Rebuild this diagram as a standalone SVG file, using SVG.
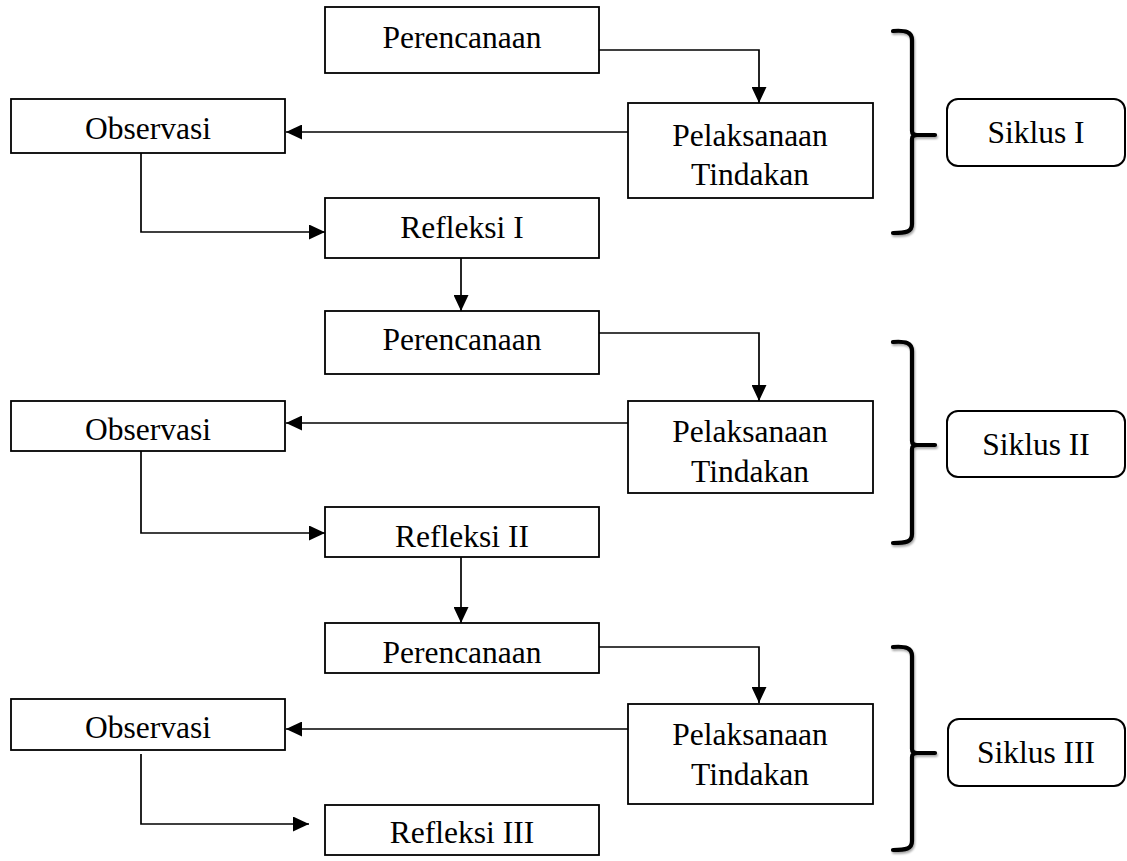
<svg xmlns="http://www.w3.org/2000/svg" width="1127" height="861" viewBox="0 0 1127 861">
<defs>
<marker id="ah" markerUnits="userSpaceOnUse" markerWidth="17" markerHeight="15" viewBox="0 0 17 15" refX="16" refY="7.5" orient="auto">
<path d="M0,0 L16,7.5 L0,15 Z" fill="#000"/>
</marker>
<filter id="sh" x="-20%" y="-5%" width="140%" height="110%">
<feGaussianBlur in="SourceAlpha" stdDeviation="1.2"/>
<feOffset dx="1" dy="1.5"/>
<feComponentTransfer><feFuncA type="linear" slope="0.35"/></feComponentTransfer>
<feMerge><feMergeNode/><feMergeNode in="SourceGraphic"/></feMerge>
</filter>
</defs>
<style>
.box{fill:#fff;stroke:#000;stroke-width:1.8}
.rbox{fill:#fff;stroke:#000;stroke-width:2}
.t{font-family:"Liberation Serif","Times New Roman",serif;font-size:31.5px;fill:#000;text-anchor:middle}
.c{fill:none;stroke:#000;stroke-width:1.7}
.br{fill:none;stroke:#000;stroke-width:4.2;stroke-linecap:round;stroke-linejoin:round}
</style>
<rect width="1127" height="861" fill="#fff"/>
<g id="connectors">
<path class="c" d="M599,50 H759 V103" marker-end="url(#ah)"/>
<path class="c" d="M628,132 H286" marker-end="url(#ah)"/>
<path class="c" d="M141,153 V232 H325" marker-end="url(#ah)"/>
<path class="c" d="M461,258 V311" marker-end="url(#ah)"/>
<path class="c" d="M599,333 H759 V401" marker-end="url(#ah)"/>
<path class="c" d="M628,423 H286" marker-end="url(#ah)"/>
<path class="c" d="M141,451 V533 H325" marker-end="url(#ah)"/>
<path class="c" d="M461,557 V623" marker-end="url(#ah)"/>
<path class="c" d="M599,647 H759 V703" marker-end="url(#ah)"/>
<path class="c" d="M628,729 H286" marker-end="url(#ah)"/>
<path class="c" d="M141,754 V824 H309" marker-end="url(#ah)"/>
</g>
<g id="perencanaan1"><rect class="box" x="325" y="7" width="274" height="66"/><text class="t" x="462" y="48">Perencanaan</text></g>
<g id="pelaksanaan1"><rect class="box" x="628" y="103" width="245" height="95"/><text class="t" x="750" y="146">Pelaksanaan</text><text class="t" x="750" y="185">Tindakan</text></g>
<g id="observasi1"><rect class="box" x="11" y="99" width="274" height="54"/><text class="t" x="148" y="139">Observasi</text></g>
<g id="refleksi1"><rect class="box" x="325" y="198" width="274" height="60"/><text class="t" x="462" y="238">Refleksi I</text></g>
<g id="perencanaan2"><rect class="box" x="325" y="311" width="274" height="63"/><text class="t" x="462" y="350">Perencanaan</text></g>
<g id="pelaksanaan2"><rect class="box" x="628" y="401" width="245" height="92"/><text class="t" x="750" y="442">Pelaksanaan</text><text class="t" x="750" y="482">Tindakan</text></g>
<g id="observasi2"><rect class="box" x="11" y="401" width="274" height="50"/><text class="t" x="148" y="440">Observasi</text></g>
<g id="refleksi2"><rect class="box" x="325" y="507" width="274" height="50"/><text class="t" x="462" y="547">Refleksi II</text></g>
<g id="perencanaan3"><rect class="box" x="325" y="623" width="274" height="50"/><text class="t" x="462" y="663">Perencanaan</text></g>
<g id="pelaksanaan3"><rect class="box" x="628" y="704" width="245" height="100"/><text class="t" x="750" y="745">Pelaksanaan</text><text class="t" x="750" y="785">Tindakan</text></g>
<g id="observasi3"><rect class="box" x="11" y="699" width="274" height="51"/><text class="t" x="148" y="738">Observasi</text></g>
<g id="refleksi3"><rect class="box" x="325" y="805" width="274" height="50"/><text class="t" x="462" y="843">Refleksi III</text></g>
<g id="bracket1" filter="url(#sh)"><path class="br" d="M893,31 C906,30 912,32 912,40 V131 Q912,135 917,135 H935 M917,135 Q912,135 912,139 V224 C912,232 906,233 893,233"/></g>
<g id="bracket2" filter="url(#sh)"><path class="br" d="M893,342 C906,341 912,343 912,351 V441 Q912,445 917,445 H935 M917,445 Q912,445 912,449 V534 C912,542 906,543 893,543"/></g>
<g id="bracket3" filter="url(#sh)"><path class="br" d="M893,647 C906,646 912,648 912,656 V749 Q912,753 917,753 H935 M917,753 Q912,753 912,757 V841 C912,849 906,850 893,850"/></g>
<g id="siklus1"><rect class="rbox" x="947" y="99" width="178" height="67" rx="11"/><text class="t" x="1036" y="143">Siklus I</text></g>
<g id="siklus2"><rect class="rbox" x="947" y="411" width="178" height="66" rx="11"/><text class="t" x="1036" y="455">Siklus II</text></g>
<g id="siklus3"><rect class="rbox" x="948" y="719" width="177" height="67" rx="11"/><text class="t" x="1036" y="763">Siklus III</text></g>
</svg>
